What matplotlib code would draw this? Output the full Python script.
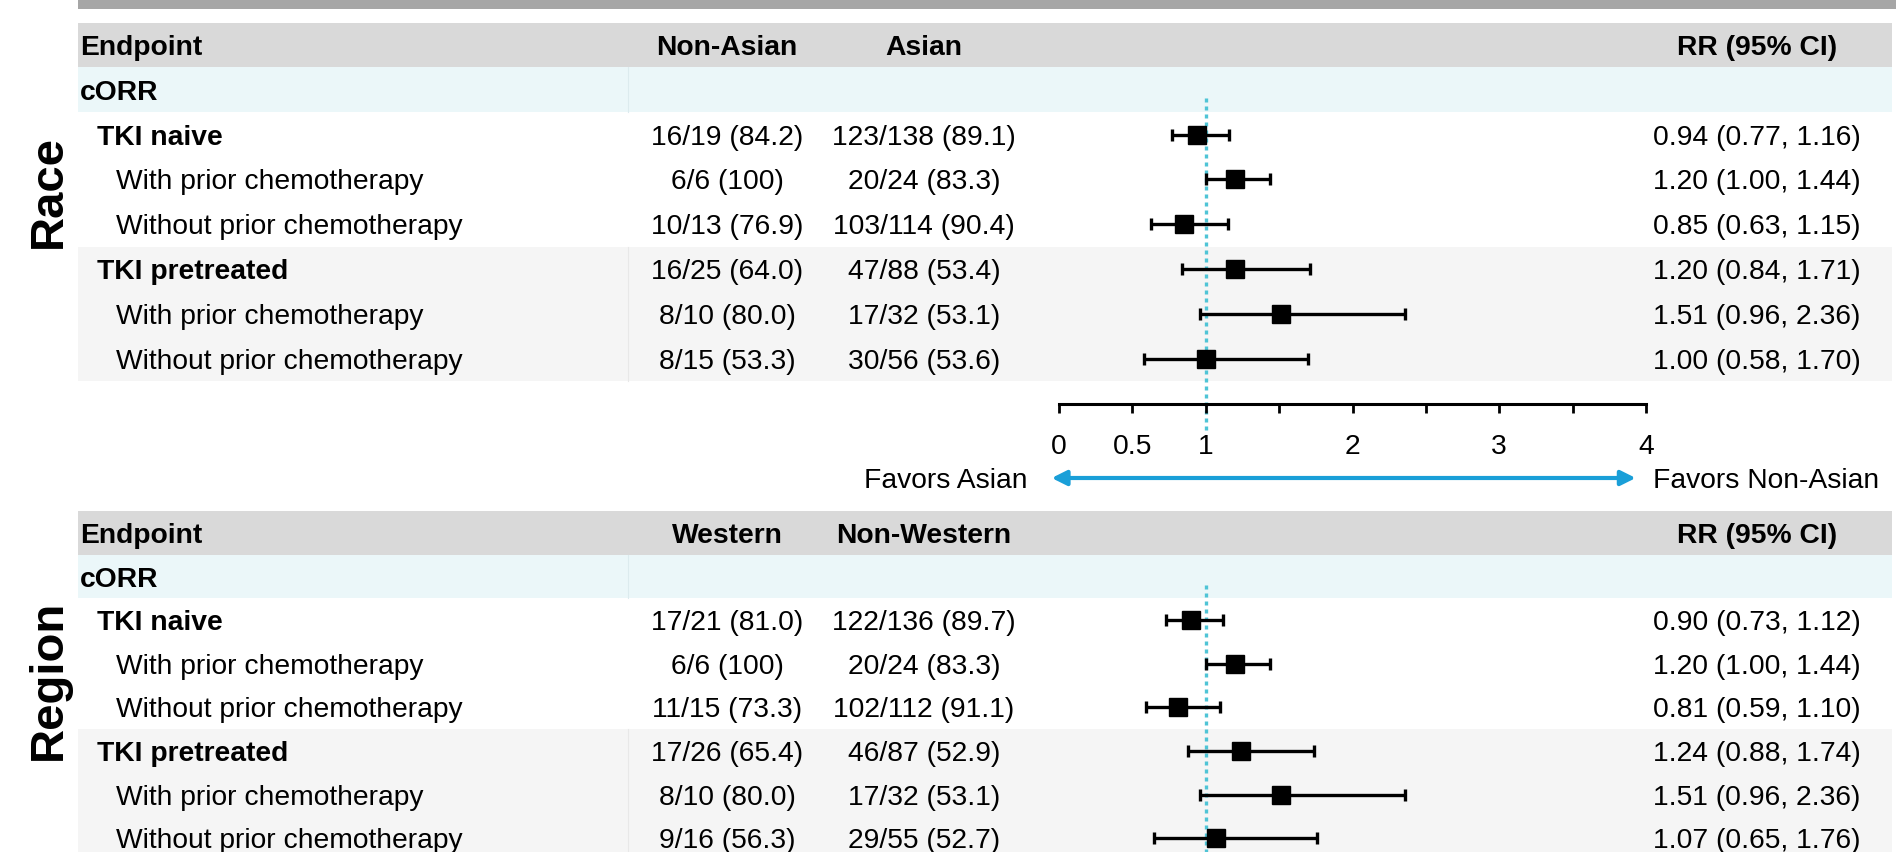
import matplotlib
matplotlib.use("Agg")
import matplotlib.pyplot as plt
import matplotlib.transforms as mtransforms
from matplotlib.patches import Rectangle

plt.rcParams['font.family'] = ['Liberation Sans', 'DejaVu Sans']

# === Data ===
row_labels = ["TKI naive", "With prior chemotherapy", "Without prior chemotherapy",
              "TKI pretreated", "With prior chemotherapy", "Without prior chemotherapy"]
row_bold = [True, False, False, True, False, False]

race_cols = ["Non-Asian", "Asian"]
race_grp1 = ["16/19 (84.2)", "6/6 (100)", "10/13 (76.9)", "16/25 (64.0)", "8/10 (80.0)", "8/15 (53.3)"]
race_grp2 = ["123/138 (89.1)", "20/24 (83.3)", "103/114 (90.4)", "47/88 (53.4)", "17/32 (53.1)", "30/56 (53.6)"]
race_rr = [0.94, 1.20, 0.85, 1.20, 1.51, 1.00]
race_lo = [0.77, 1.00, 0.63, 0.84, 0.96, 0.58]
race_hi = [1.16, 1.44, 1.15, 1.71, 2.36, 1.70]

region_cols = ["Western", "Non-Western"]
region_grp1 = ["17/21 (81.0)", "6/6 (100)", "11/15 (73.3)", "17/26 (65.4)", "8/10 (80.0)", "9/16 (56.3)"]
region_grp2 = ["122/136 (89.7)", "20/24 (83.3)", "102/112 (91.1)", "46/87 (52.9)", "17/32 (53.1)", "29/55 (52.7)"]
region_rr = [0.90, 1.20, 0.81, 1.24, 1.51, 1.07]
region_lo = [0.73, 1.00, 0.59, 0.88, 0.96, 0.65]
region_hi = [1.12, 1.44, 1.10, 1.74, 2.36, 1.76]

axis_ticks = [0, 0.5, 1, 1.5, 2, 2.5, 3, 3.5, 4]
axis_ticklabels = ["0", "0.5", "1", "", "2", "", "3", "", "4"]

# === Layout (pixels) ===
W, H = 1896, 852
LEFT, RIGHT = 78, 1892
X_LABEL, X_SUB1, X_SUB2 = 80, 97, 116
X_C1, X_C2, X_RR = 727, 924, 1757
X_SEP = 628
PLOT_X0, PLOT_X1 = 1059, 1646
FS = 20.3

C_TOP = "#a6a6a6"
C_HEAD = "#d9d9d9"
C_CORR = "#ebf7f9"
C_PRE = "#f5f5f5"
C_REF = "#4fc4d6"
C_ARROW = "#1a9fd8"

fig = plt.figure(figsize=(W / 100, H / 100), dpi=100)
ax = fig.add_axes([0, 0, 1, 1])
ax.set_xlim(0, W)
ax.set_ylim(H, 0)
ax.axis("off")

ax.add_patch(Rectangle((LEFT, 0), W - LEFT, 9, color=C_TOP, lw=0))


def draw_panel(top_c, row_h, title, title_y, cols, grp1, grp2, rr, lo, hi, ref_end):
    def yc(i):
        return top_c + i * row_h

    # backgrounds
    ax.add_patch(Rectangle((LEFT, yc(0) - row_h / 2), RIGHT - LEFT, row_h, color=C_HEAD, lw=0))
    ax.add_patch(Rectangle((LEFT, yc(1) - row_h / 2), RIGHT - LEFT, row_h, color=C_CORR, lw=0))
    ax.add_patch(Rectangle((LEFT, yc(5) - row_h / 2), RIGHT - LEFT, 3 * row_h, color=C_PRE, lw=0))
    ax.plot([X_SEP, X_SEP], [yc(1) - row_h / 2, yc(1) + row_h / 2], color="#dcebee", lw=0.8)
    ax.plot([X_SEP, X_SEP], [yc(5) - row_h / 2, yc(7) + row_h / 2], color="#e8e8e8", lw=0.8)

    # header
    kw = dict(fontsize=FS, va="center_baseline")
    ax.text(X_LABEL, yc(0), "Endpoint", fontweight="bold", ha="left", **kw)
    ax.text(X_C1, yc(0), cols[0], fontweight="bold", ha="center", **kw)
    ax.text(X_C2, yc(0), cols[1], fontweight="bold", ha="center", **kw)
    ax.text(X_RR, yc(0), "RR (95% CI)", fontweight="bold", ha="center", **kw)
    ax.text(X_LABEL, yc(1), "cORR", fontweight="bold", ha="left", **kw)

    for k in range(len(row_labels)):
        y = yc(k + 2)
        ax.text(X_SUB1 if row_bold[k] else X_SUB2, y, row_labels[k],
                fontweight="bold" if row_bold[k] else "normal", ha="left", **kw)
        ax.text(X_C1, y, grp1[k], ha="center", **kw)
        ax.text(X_C2, y, grp2[k], ha="center", **kw)
        ax.text(X_RR, y, f"{rr[k]:.2f} ({lo[k]:.2f}, {hi[k]:.2f})", ha="center", **kw)

    # group label
    ax.text(49, title_y, title, fontsize=34, fontweight="bold", rotation=90, va="center", ha="center")

    # forest plot
    y_top = yc(0) - row_h / 2
    fax = fig.add_axes([PLOT_X0 / W, 1 - (y_top + 8 * row_h) / H, (PLOT_X1 - PLOT_X0) / W, 8 * row_h / H])
    fax.set_xlim(0, 4)
    fax.set_ylim(7.5, -0.5)
    fax.axis("off")
    ypos = list(range(2, 8))
    xerr = [[r - l for r, l in zip(rr, lo)], [h - r for r, h in zip(rr, hi)]]
    fax.errorbar(rr, ypos, xerr=xerr, fmt="s", color="black", ms=13.5,
                 elinewidth=2.4, capsize=4.3, capthick=2.4, zorder=3, clip_on=False)

    # reference line at RR = 1
    trans = mtransforms.blended_transform_factory(fax.transData, ax.transData)
    ax.plot([1, 1], [yc(1) + 8, ref_end], transform=trans, color=C_REF, lw=2.4,
            linestyle=(0, (1.2, 1.2)), zorder=2, clip_on=False)
    return fax


fax_race = draw_panel(45, 44.8, "Race", 191, race_cols, race_grp1, race_grp2,
                      race_rr, race_lo, race_hi, 433)
fax_region = draw_panel(533, 43.6, "Region", 680, region_cols, region_grp1, region_grp2,
                        region_rr, region_lo, region_hi, H + 5)

# === Scale axis ===
AXIS_Y = 404
sax = fig.add_axes([PLOT_X0 / W, 1 - AXIS_Y / H - 0.01, (PLOT_X1 - PLOT_X0) / W, 0.01])
sax.set_xlim(0, 4)
sax.patch.set_alpha(0)
for s in ["left", "right", "bottom"]:
    sax.spines[s].set_visible(False)
sax.spines["top"].set_linewidth(2.2)
sax.xaxis.set_ticks_position("top")
sax.set_yticks([])
sax.set_xticks(axis_ticks)
sax.set_xticklabels(axis_ticklabels, fontsize=FS)
sax.tick_params(axis="x", direction="in", length=6.5, width=2, labeltop=False, labelbottom=True, pad=0)
for lab in sax.get_xticklabels():
    lab.set_transform(lab.get_transform() + mtransforms.ScaledTranslation(0, -0.21, fig.dpi_scale_trans))

# favours arrow
ax.annotate("", xy=(-0.05, 478), xytext=(3.93, 478),
            xycoords=(sax.transData, ax.transData), textcoords=(sax.transData, ax.transData),
            arrowprops=dict(arrowstyle="<|-|>", color=C_ARROW, lw=3, mutation_scale=22,
                            shrinkA=0, shrinkB=0))
ax.text(1028, 478, "Favors Asian", fontsize=FS, va="center_baseline", ha="right")
ax.text(1653, 478, "Favors Non-Asian", fontsize=FS, va="center_baseline", ha="left")

fig.savefig("out.png", dpi=100)
